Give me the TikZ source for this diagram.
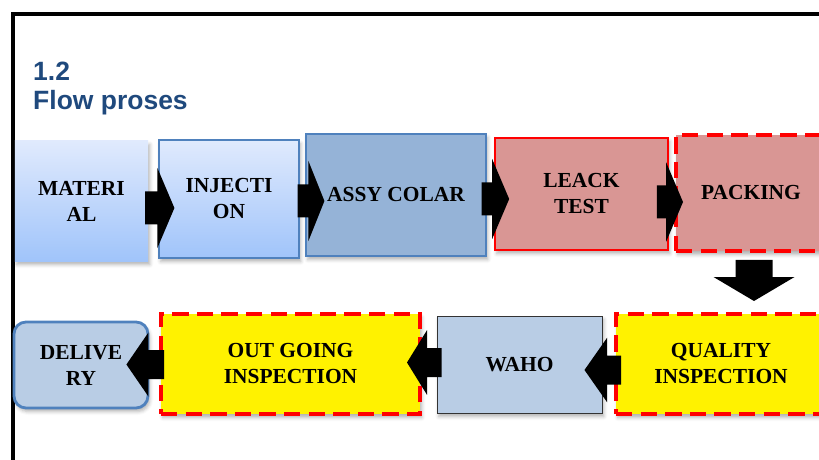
\documentclass[tikz,border=0pt]{standalone}
\usepackage{fontspec}
\setmainfont{Liberation Serif}
\newfontfamily\headfont{Liberation Sans}
\usetikzlibrary{calc,shadows,shadows.blur}

\definecolor{titleblue}{RGB}{31,73,125}
\definecolor{boxblue}{RGB}{149,179,215}
\definecolor{paleblue}{RGB}{185,205,229}
\definecolor{edgeblue}{RGB}{79,129,189}
\definecolor{rose}{RGB}{217,150,148}
\definecolor{gradtop}{RGB}{224,234,253}
\definecolor{gradbot}{RGB}{160,196,250}

% block arrow: start, tip, shaft half width, head half width, head length
\newcommand{\flowarrow}[5]{%
  \path ($(#2)!#5!(#1)$) coordinate (hb);
  \fill ($(#1)!#3!90:(#2)$) -- ($(hb)!#3!90:(#2)$) -- ($(hb)!#4!90:(#2)$) -- (#2)
    -- ($(hb)!#4!-90:(#2)$) -- ($(hb)!#3!-90:(#2)$) -- ($(#1)!#3!-90:(#2)$) -- cycle;}

\tikzset{
  stage/.style={rectangle, inner sep=2pt, align=center,
    font=\fontsize{18.3}{22.2}\selectfont\bfseries,
    blur shadow={shadow xshift=1.5pt, shadow yshift=-3pt, shadow opacity=30, shadow blur radius=3pt}},
  reddash/.style={draw=red, line width=3.4pt, dash pattern=on 14pt off 7pt},
}

\begin{document}
\begin{tikzpicture}[x=0.03cm,y=-0.03cm]
\useasboundingbox (0,0) rectangle (819,460);
\clip (0,0) rectangle (819,460);

% frame and heading
\draw[line width=3.4pt] (13,480) -- (13,14) -- (840,14);
\node[inner sep=0, anchor=base west, text=titleblue, font=\headfont\bfseries\fontsize{22.6}{26}\selectfont] (num) at (33,81) {1.2};
\node[inner sep=0, anchor=base west, text=titleblue, font=\headfont\bfseries\fontsize{22.6}{26}\selectfont] (title) at (33,110) {Flow proses};

% first row
\node[stage, top color=gradtop, bottom color=gradbot, minimum width=3.99cm, minimum height=3.6cm] (mat) at (81.5,201) {MATERI\\AL};
\node[stage, top color=gradtop, bottom color=gradbot, draw=edgeblue, line width=1pt, minimum width=4.2cm, minimum height=3.54cm] (inj) at (229,199) {INJECTI\\ON};
\node[stage, fill=boxblue, draw=edgeblue, line width=1pt, minimum width=5.4cm, minimum height=3.66cm] (assy) at (396,195) {ASSY COLAR};
\node[stage, fill=rose, draw=red, line width=1.4pt, minimum width=5.19cm, minimum height=3.36cm] (leack) at (581.5,194) {LEACK\\TEST};
\node[stage, fill=rose, reddash, minimum width=4.5cm, minimum height=3.48cm] (pack) at (751,193) {PACKING};

% second row
\node[stage, fill=yellow, reddash, minimum width=6.3cm, minimum height=3cm] (qual) at (721,364) {QUALITY\\INSPECTION};
\node[stage, fill=paleblue, draw=black!80, line width=0.8pt, minimum width=4.95cm, minimum height=2.91cm] (waho) at (519.5,364.5) {WAHO};
\node[stage, fill=yellow, reddash, minimum width=7.77cm, minimum height=3cm] (outg) at (290.5,364) {OUT GOING\\INSPECTION};
\node[stage, fill=paleblue, draw=edgeblue, line width=2.4pt, rounded corners=0.36cm, minimum width=4.02cm, minimum height=2.58cm] (deliv) at (81,365) {DELIVE\\RY};

% arrows
\coordinate (a1s) at ($(mat.east)+(-3,7)$);
\coordinate (a1t) at ($(inj.west)+(16,9)$);
\coordinate (a2s) at ($(inj.east)+(-2,2)$);
\coordinate (a2t) at ($(assy.west)+(19,6)$);
\coordinate (a3s) at ($(assy.east)+(-5,4)$);
\coordinate (a3t) at ($(leack.west)+(15,5)$);
\coordinate (a4s) at ($(leack.east)+(-12,8)$);
\coordinate (a4t) at ($(pack.west)+(9,9)$);
\coordinate (dns) at ($(pack.south)+(3,7)$);
\coordinate (dnt) at ($(qual.north)+(33,-11)$);
\coordinate (b1s) at ($(qual.west)+(7,6)$);
\coordinate (b1t) at ($(waho.east)+(-18,5.5)$);
\coordinate (b2s) at ($(waho.west)+(5,-2)$);
\coordinate (b2t) at ($(outg.east)+(-15,-1.5)$);
\coordinate (b3s) at ($(outg.west)+(5,0.5)$);
\coordinate (b3t) at ($(deliv.east)+(-23,-0.5)$);

\flowarrow{a1s}{a1t}{0.495cm}{1.2cm}{0.51cm}
\flowarrow{a2s}{a2t}{0.495cm}{1.2cm}{0.48cm}
\flowarrow{a3s}{a3t}{0.495cm}{1.2cm}{0.51cm}
\flowarrow{a4s}{a4t}{0.495cm}{1.2cm}{0.51cm}
\flowarrow{dns}{dnt}{0.555cm}{1.215cm}{0.72cm}
\flowarrow{b1s}{b1t}{0.435cm}{0.97cm}{0.68cm}
\flowarrow{b2s}{b2t}{0.435cm}{0.97cm}{0.6cm}
\flowarrow{b3s}{b3t}{0.435cm}{0.96cm}{0.66cm}
\end{tikzpicture}
\end{document}
